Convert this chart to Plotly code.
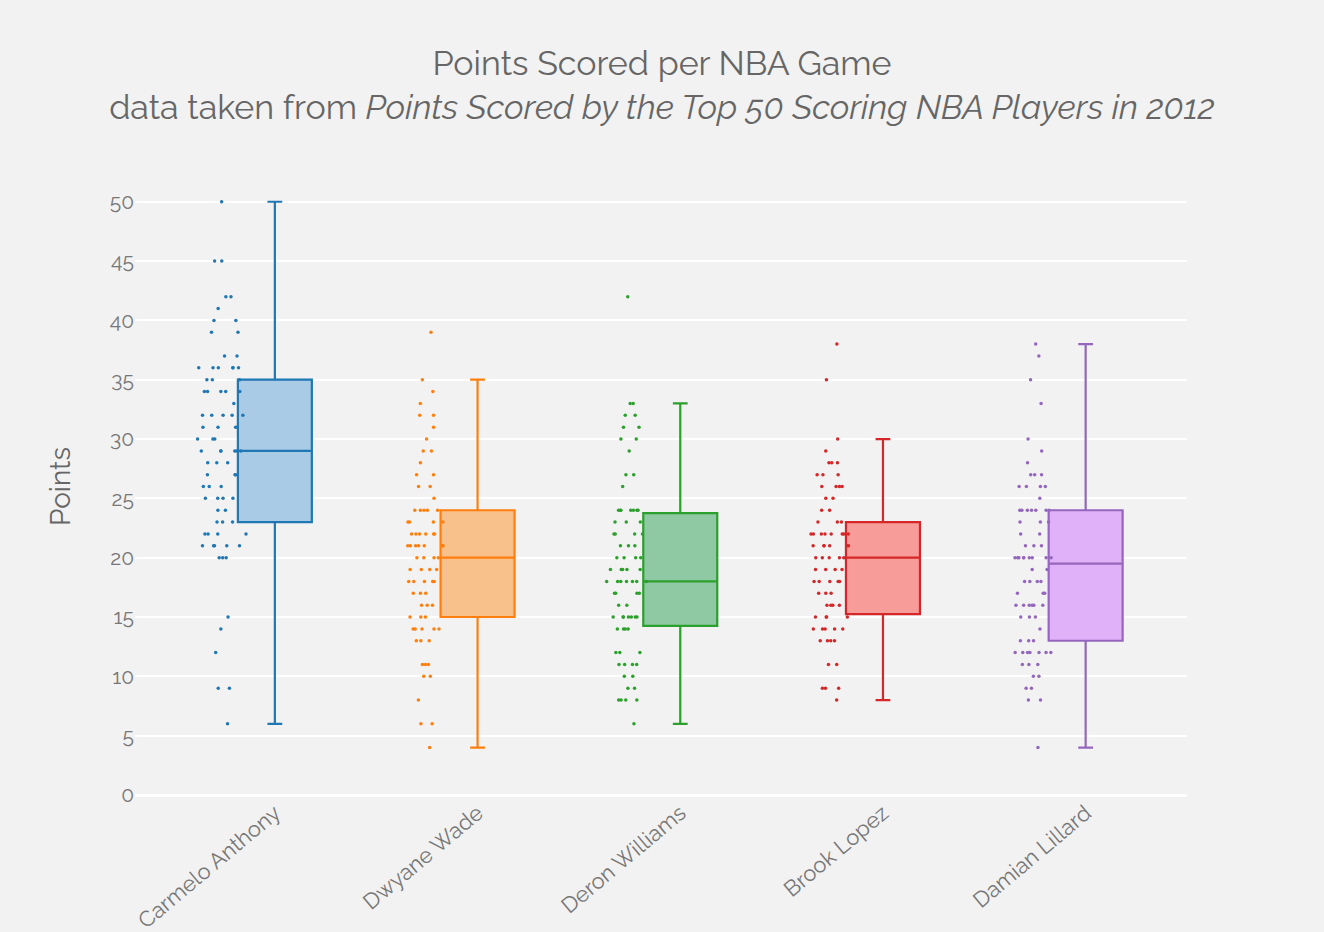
import plotly.graph_objects as go

players = ["Carmelo Anthony", "Dwyane Wade", "Deron Williams", "Brook Lopez", "Damian Lillard"]

# value: count pairs
carmelo_vals = [50, 45, 42, 41, 40, 39, 37, 36, 35, 34, 33, 32, 31, 30, 29, 28, 27, 26, 25, 24, 23, 22, 21, 20, 15, 14, 12, 9, 6]
carmelo_cnts = [1, 2, 2, 1, 2, 2, 2, 6, 3, 5, 1, 5, 4, 3, 6, 3, 3, 3, 4, 2, 3, 4, 5, 3, 1, 1, 1, 2, 1]

wade_vals = [39, 35, 34, 33, 32, 31, 30, 29, 28, 27, 26, 25, 24, 23, 22, 21, 20, 19, 18, 17, 16, 15, 14, 13, 11, 10, 8, 6, 4]
wade_cnts = [1, 1, 1, 1, 2, 1, 1, 2, 1, 2, 2, 1, 5, 4, 6, 7, 4, 4, 5, 3, 3, 3, 5, 3, 3, 2, 1, 2, 1]

williams_vals = [42, 33, 32, 31, 30, 29, 27, 26, 24, 23, 22, 21, 20, 19, 18, 17, 16, 15, 14, 12, 11, 10, 9, 8, 6]
williams_cnts = [1, 2, 2, 2, 2, 1, 2, 1, 7, 3, 4, 3, 4, 5, 7, 4, 2, 7, 4, 3, 4, 2, 2, 4, 1]

lopez_vals = [38, 35, 30, 29, 28, 27, 26, 25, 24, 23, 22, 21, 20, 19, 18, 17, 16, 15, 14, 13, 11, 9, 8]
lopez_cnts = [1, 1, 1, 1, 3, 3, 4, 2, 2, 3, 8, 6, 5, 4, 5, 3, 4, 4, 5, 4, 2, 3, 1]

lillard_vals = [38, 37, 35, 33, 30, 29, 28, 27, 26, 25, 24, 23, 22, 21, 20, 19, 18, 17, 16, 15, 14, 13, 12, 11, 10, 9, 8, 4]
lillard_cnts = [1, 1, 1, 1, 1, 1, 1, 3, 4, 1, 7, 3, 2, 3, 9, 2, 4, 3, 6, 3, 1, 3, 7, 3, 2, 2, 2, 1]

line_colors = ["#1f77b4", "#ff7f0e", "#2ca02c", "#d62728", "#9467bd"]
fill_colors = ["#a9cbe6", "#f8c08a", "#8ec9a4", "#f89c9a", "#e0b0f8"]


def expand(vals, cnts):
    out = []
    for v, c in zip(vals, cnts):
        out.extend([v] * c)
    return out


series = [
    expand(carmelo_vals, carmelo_cnts),
    expand(wade_vals, wade_cnts),
    expand(williams_vals, williams_cnts),
    expand(lopez_vals, lopez_cnts),
    expand(lillard_vals, lillard_cnts),
]

fig = go.Figure()
for name, ys, lc, fc in zip(players, series, line_colors, fill_colors):
    fig.add_trace(go.Box(
        y=ys,
        x=[name] * len(ys),
        name=name,
        boxpoints="all",
        jitter=0.7,
        pointpos=-1.4,
        width=0.365,
        whiskerwidth=0.2,
        line=dict(color=lc, width=2.2),
        fillcolor=fc,
        marker=dict(color=lc, size=3.5),
        showlegend=False,
    ))

font_family = "Raleway, Lato, sans-serif"
fig.update_layout(
    width=1324,
    height=932,
    paper_bgcolor="#f2f2f2",
    plot_bgcolor="#f2f2f2",
    font=dict(family=font_family, color="#777"),
    title=dict(
        text="Points Scored per NBA Game<br>data taken from <i>Points Scored by the Top 50 Scoring NBA Players in 2012</i>",
        x=0.5,
        xanchor="center",
        y=0.92,
        yanchor="top",
        font=dict(family=font_family, size=34, color="#666"),
    ),
    margin=dict(l=135, r=137, t=178, b=137, autoexpand=False),
    showlegend=False,
    yaxis=dict(
        title=dict(text="Points", font=dict(size=28, color="#666"), standoff=30),
        range=[0, 52],
        dtick=5,
        gridcolor="white",
        gridwidth=2,
        zeroline=True,
        zerolinecolor="white",
        zerolinewidth=3,
        tickfont=dict(size=21, color="#777"),
        ticks="",
        showline=False,
        automargin=False,
    ),
    xaxis=dict(
        range=[-0.69, 4.5],
        tickangle=-40,
        tickfont=dict(size=22, color="#777"),
        showgrid=False,
        showline=False,
        ticks="",
        automargin=False,
    ),
)

fig.write_html(
    "out.html",
    config={"displayModeBar": False},
    post_script="document.body.style.margin='0';",
)
